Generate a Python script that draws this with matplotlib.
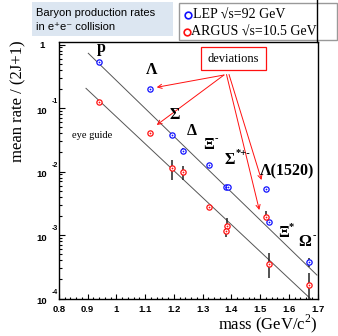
import matplotlib
matplotlib.use('Agg')
import matplotlib.pyplot as plt
import numpy as np
from matplotlib.ticker import MultipleLocator, LogLocator, NullFormatter, FixedLocator
from matplotlib.lines import Line2D
from matplotlib.patches import Rectangle, FancyArrowPatch

plt.rcParams['mathtext.fontset'] = 'custom'
plt.rcParams['mathtext.rm'] = 'Liberation Serif'

# ---------------- data ----------------
lep_mass = [0.938, 1.116, 1.193, 1.232, 1.321, 1.383, 1.387, 1.520, 1.532, 1.672]
lep_rate = [0.536, 0.199, 0.0376, 0.0213, 0.0125, 0.0058, 0.0057, 0.0053, 0.0016, 3.72e-4]
lep_err_lo = [0.01, 0.004, 0.003, 0.002, 0.0008, 0.0004, 0.0004, 0.0003, 0.0001, 0.55e-4]
lep_err_hi = [0.01, 0.004, 0.003, 0.002, 0.0008, 0.0004, 0.0004, 0.0003, 0.0001, 0.6e-4]

argus_mass = [0.938, 1.116, 1.193, 1.232, 1.321, 1.384, 1.381, 1.520, 1.532, 1.672]
argus_rate = [0.126, 0.040, 0.0115, 0.0097, 0.00279, 0.0014, 0.00117, 0.0019, 3.49e-4, 1.61e-4]
argus_err_lo = [0.004, 0.002, 0.0041, 0.0023, 0.0002, 0.0003, 0.00024, 0.0002, 1.4e-4, 1.55e-4]
argus_err_hi = [0.004, 0.002, 0.0037, 0.0025, 0.0002, 0.00045, 0.0002, 0.0005, 1.7e-4, 0.9e-4]

# eye-guide lines (endpoints)
guide_upper_x = [0.902, 1.698]
guide_upper_y = [0.727, 2.34e-4]
guide_lower_x = [0.894, 1.680]
guide_lower_y = [0.204, 0.95e-4]

x_ticks = [0.8, 0.9, 1.0, 1.1, 1.2, 1.3, 1.4, 1.5, 1.6, 1.7]
x_tick_labels = ['0.8', '0.9', '1', '1.1', '1.2', '1.3', '1.4', '1.5', '1.6', '1.7']
y_decades = [1, 1e-1, 1e-2, 1e-3, 1e-4]
y_exponents = ['', '-1', '-2', '-3', '-4']

legend_labels = ['LEP \u221as=92 GeV', 'ARGUS \u221as=10.5 GeV']

# ---------------- figure ----------------
W, H = 338, 336
fig = plt.figure(figsize=(W / 100, H / 100), dpi=100)


def fx(x):
    return x / W


def fy(y):
    return 1 - y / H


ax = fig.add_axes([fx(59), fy(298.5), fx(317.5) - fx(59), fy(42) - fy(298.5)])
ax.set_yscale('log')
ax.set_xlim(0.8, 1.7)
ax.set_ylim(1e-4, 1.095)

BLUE = '#1010ff'
RED = '#ff1010'

# guides
ax.plot(guide_upper_x, guide_upper_y, color='#555555', lw=0.7, zorder=1)
ax.plot(guide_lower_x, guide_lower_y, color='#555555', lw=0.7, zorder=1)

# error bars
ax.errorbar(lep_mass, lep_rate, yerr=[lep_err_lo, lep_err_hi], fmt='none',
            ecolor='#222222', elinewidth=1.1, capsize=0, zorder=2)
ax.errorbar(argus_mass, argus_rate, yerr=[argus_err_lo, argus_err_hi], fmt='none',
            ecolor='#222222', elinewidth=1.1, capsize=0, zorder=2)

for m, r, c in [(lep_mass, lep_rate, BLUE), (argus_mass, argus_rate, RED)]:
    ax.plot(m, r, 'o', ms=3.8, mfc='white', mec=c, mew=0.9, ls='none', zorder=3)
    ax.plot(m, r, 'o', ms=0.9, mfc=c, mec=c, mew=0.3, ls='none', zorder=4)

# axes styling
for s in ax.spines.values():
    s.set_linewidth(1.0)
    s.set_color('black')
ax.xaxis.set_major_locator(FixedLocator(x_ticks))
ax.xaxis.set_minor_locator(MultipleLocator(0.02))
ax.set_xticklabels(x_tick_labels)
ax.yaxis.set_major_locator(FixedLocator(y_decades))
ax.yaxis.set_minor_locator(LogLocator(base=10, subs=np.arange(2, 10)))
ax.yaxis.set_minor_formatter(NullFormatter())
ax.set_yticklabels([''] * len(y_decades))
ax.tick_params(axis='both', which='both', direction='in', top=False, right=False)
ax.tick_params(axis='x', which='major', length=3.3, width=0.8, pad=4.5)
ax.tick_params(axis='x', which='minor', length=1.8, width=0.8)
ax.tick_params(axis='y', which='major', length=4.0, width=0.8)
ax.tick_params(axis='y', which='minor', length=2.2, width=0.8)
for lab_ in ax.get_xticklabels():
    lab_.set_fontfamily('Liberation Sans')
    lab_.set_fontweight('bold')
    lab_.set_fontsize(6.8)

# y tick labels in ROOT style, placed at the pixel rows of each decade
fig.canvas.draw()
for d, e in zip(y_decades, y_exponents):
    _, ypix_disp = ax.transData.transform((1.0, d))
    ypix = H - ypix_disp
    if e == '':
        fig.text(fx(44.5), fy(ypix + 0.8), '1', ha='right', va='center',
                 fontfamily='Liberation Sans', fontweight='bold', fontsize=6.8)
    else:
        fig.text(fx(47), fy(ypix + 3), '10', ha='right', va='center',
                 fontfamily='Liberation Sans', fontweight='bold', fontsize=6.8)
        fig.text(fx(51.5), fy(ypix - 6.5), e, ha='left', va='center',
                 fontfamily='Liberation Sans', fontweight='bold', fontsize=5.0)

# axis titles
fig.text(fx(317.5), fy(323.5), 'mass (GeV/c$^{2}$)', ha='right', va='center',
         fontfamily='Liberation Serif', fontsize=12)
fig.text(fx(18), fy(40), 'mean rate / (2J+1)', rotation=90, rotation_mode='anchor',
         ha='right', va='center', fontfamily='Liberation Serif', fontsize=12)

# particle labels
SER_B = dict(fontfamily=['Liberation Serif', 'DejaVu Serif'], fontweight='bold')


def lab(x, y, s, size=11.5, **kw):
    fig.text(fx(x), fy(y), s, fontsize=size, va='center', **SER_B, **kw)


lab(101.7, 48, 'p', ha='center')
lab(151.7, 70, '\u039b', ha='center')
lab(175, 115, '\u03a3', ha='center')
lab(191.7, 131, '\u0394', ha='center')
lab(208.3, 145, '\u039e', ha='center')
lab(214.5, 139, '-', size=7.5, ha='left')
lab(230, 160, '\u03a3', ha='center')
lab(236, 154, '*+-', size=7.5, ha='left')
lab(260, 171.7, '\u039b(1520)', ha='left')
lab(283.3, 233.3, '\u039e', ha='center')
lab(289, 227, '*', size=7.5, ha='left')
lab(305, 241.7, '\u03a9', ha='center')
lab(312.5, 236, '-', size=7.5, ha='left')

fig.text(fx(92.5), fy(136), 'eye guide', ha='center', va='center',
         fontfamily='Liberation Serif', fontsize=7.5)

# deviations box and arrows
fig.text(fx(233.3), fy(58.5), 'deviations', ha='center', va='center',
         fontfamily='Liberation Serif', fontsize=9)
fig.add_artist(Rectangle((fx(200.7), fy(70)), fx(266) - fx(200.7), fy(47.3) - fy(70),
                         transform=fig.transFigure, fill=False, ec=RED, lw=0.9))
arrows = [((224, 75), (156.7, 87.3)), ((224, 75), (156.7, 125)),
          ((229, 74.5), (261.5, 180)), ((226.5, 74.5), (259.3, 210))]
for (sx, sy), (ex, ey) in arrows:
    fig.add_artist(FancyArrowPatch(
        (fx(sx), fy(sy)), (fx(ex), fy(ey)), transform=fig.transFigure,
        arrowstyle='->,head_length=3,head_width=1.5', color=RED, lw=0.7,
        shrinkA=0, shrinkB=0))

# title box
fig.add_artist(Rectangle((fx(31.7), fy(36)), fx(173.3) - fx(31.7), fy(1.7) - fy(36),
                         transform=fig.transFigure, fc='#dce6f1', ec='none'))
fig.text(fx(36), fy(13.3), 'Baryon production rates', ha='left', va='center',
         fontfamily='Liberation Sans', fontsize=8)
fig.text(fx(36), fy(27), 'in e\u207ae\u207b collision', ha='left', va='center',
         fontfamily=['Liberation Sans', 'DejaVu Sans'], fontsize=8)

# legend box
fig.add_artist(Rectangle((fx(179), fy(39.5)), fx(337) - fx(179), fy(3) - fy(39.5),
                         transform=fig.transFigure, fc='white', ec='#999999', lw=1.0))
for (mx, my, tx), c, s in zip([(188.3, 15, 193), (186.7, 31.7, 190.5)], [BLUE, RED], legend_labels):
    fig.add_artist(Line2D([fx(mx)], [fy(my)], transform=fig.transFigure, marker='o',
                          ms=4.8, mfc='none', mec=c, mew=1.2, ls='none'))
    fig.text(fx(tx), fy(my), s, ha='left', va='center',
             fontfamily=['Liberation Serif', 'DejaVu Serif'], fontsize=10)

# right frame line extending to top
fig.add_artist(Line2D([fx(317), fx(317)], [fy(42), 1.0], transform=fig.transFigure,
                      color='black', lw=1.0, zorder=10))

fig.savefig('out.png', dpi=100)
